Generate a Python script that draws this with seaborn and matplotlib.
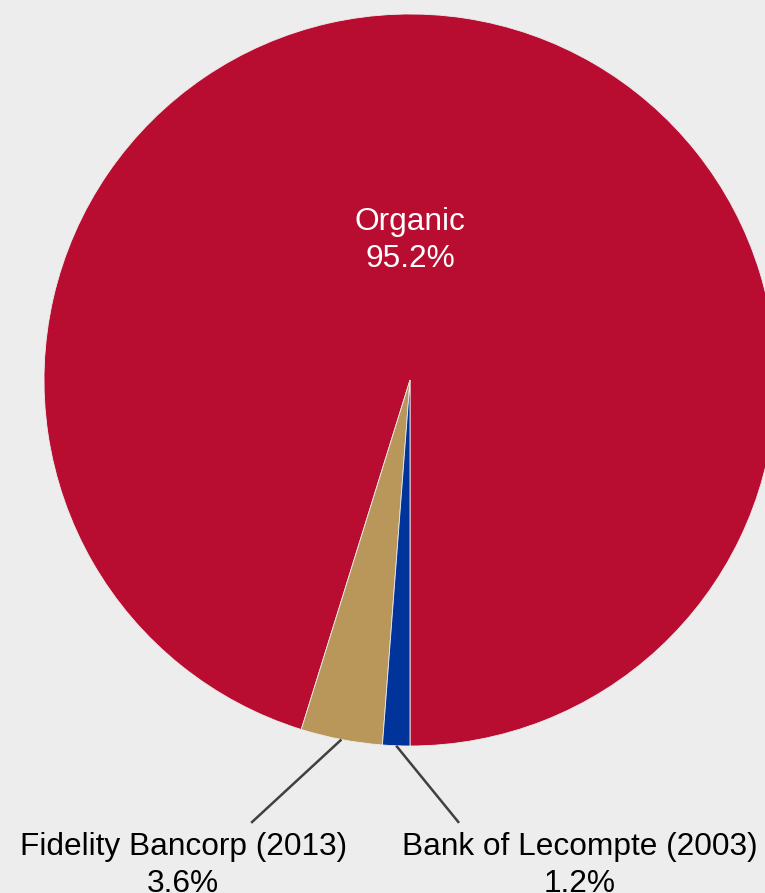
import numpy as np
import matplotlib.pyplot as plt
import seaborn as sns

# data
labels = ['Organic', 'Fidelity Bancorp (2013)', 'Bank of Lecompte (2003)']
shares = [95.2, 3.6, 1.2]
colors = ['#B80D30', '#B9975B', '#00349A']

sns.set_theme(style='white')
plt.rcParams['font.family'] = ['Liberation Sans', 'DejaVu Sans']

bg = '#EDEDED'
W, H = 765, 893
cx, cy, R = 410, 380, 366  # pie centre / radius in pixels

fig = plt.figure(figsize=(W / 100, H / 100), dpi=100, facecolor=bg)
ax = fig.add_axes([0, 0, 1, 1])
ax.set_facecolor(bg)

wedges, _ = ax.pie(shares, colors=colors, startangle=-90, counterclock=True,
                   radius=1, wedgeprops=dict(edgecolor=bg, linewidth=0.6))

ax.set_xlim(-cx / R, (W - cx) / R)
ax.set_ylim(-(H - cy) / R, cy / R)
ax.axis('off')

# inside label for the big slice
ax.text(0, 0.38, f'{labels[0]}\n{shares[0]:.1f}%', color='white',
        fontsize=22.8, ha='center', va='center', linespacing=1.3)

# outside labels with leader lines
ends = [(-0.434, -1.210), (0.134, -1.210)]
txt_x = [-0.62, 0.463]
for i in (1, 2):
    w = wedges[i]
    mid = np.deg2rad((w.theta1 + w.theta2) / 2)
    p0 = (np.cos(mid), np.sin(mid))
    ex, ey = ends[i - 1]
    ax.plot([p0[0], ex], [p0[1], ey], color='#404040', lw=1.8,
            solid_capstyle='butt')
    ax.text(txt_x[i - 1], -1.236, f'{labels[i]}\n{shares[i]:.1f}%',
            color='black', fontsize=22.8, ha='center', va='top',
            linespacing=1.3)

fig.savefig('out.png', dpi=100, facecolor=bg)
